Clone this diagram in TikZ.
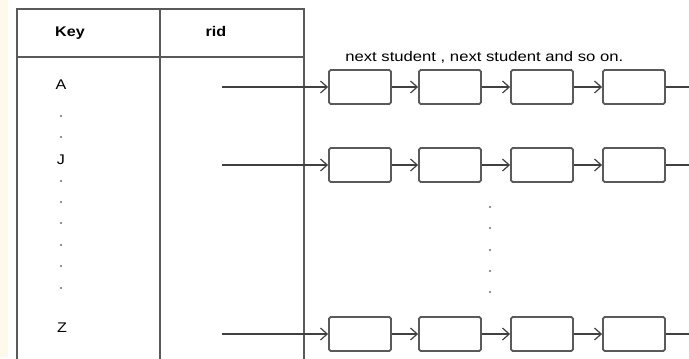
\documentclass[tikz,border=0pt]{standalone}
\usepackage{fontspec}
\setmainfont{Liberation Sans}
\usetikzlibrary{arrows.meta}

\definecolor{paper}{RGB}{255,249,236}
\definecolor{rule}{RGB}{90,90,90}
\definecolor{dotc}{RGB}{120,100,140}

\tikzset{
  cell/.style={draw=rule, line width=1.4pt, rounded corners=1.2pt, fill=white,
    minimum width=46.5pt, minimum height=25.5pt, inner sep=0pt},
  link/.style={draw=black!75, line width=1.1pt, -{Straight Barb[length=5pt,width=9pt,line width=0.9pt]}},
  txt/.style={inner sep=0pt, font=\fontsize{10.5}{12}\selectfont, xscale=1.15},
  hd/.style={txt, font=\fontsize{10.5}{12}\selectfont\bfseries},
}

\begin{document}
\begin{tikzpicture}[x=0.75pt,y=0.75pt,yscale=-1,xscale=1]
  \useasboundingbox (0,0) rectangle (689,358);
  \clip (0,0) rectangle (689,358);
  \fill[white] (0,0) rectangle (689,358);
  \fill[paper] (0,0) rectangle (8,358);

  %Table frame
  \draw[rule, line width=1.8pt] (17,362) -- (17,9) -- (304,9) -- (304,362);
  \draw[rule, line width=1.8pt] (17,57) -- (304,57);
  \draw[rule, line width=1.8pt] (160,9) -- (160,362);

  % Header
  \node[hd] (key) at (70,33) {Key};
  \node[hd] (rid) at (216,31) {rid};

  % Keys
  \node[txt] (ka) at (61,85) {A};
  \node[txt] (kj) at (61,160) {J};
  \node[txt] (kz) at (62,328) {Z};
  \foreach \y in {116,137,181,202,223,245,266,288}
    \fill[dotc] (61,\y) circle (0.9pt);

  % Caption
  \node[txt, anchor=west, xscale=1.035] (cap) at (345,57) {next student , next student and so on.};

  % Lists
  \node[cell] (a1) at (360,87) {};
  \node[cell] (a2) at (450,87) {};
  \node[cell] (a3) at (542,87) {};
  \node[cell] (a4) at (634,87) {};
  \node[cell] (j1) at (360,165) {};
  \node[cell] (j2) at (450,165) {};
  \node[cell] (j3) at (542,165) {};
  \node[cell] (j4) at (634,165) {};
  \node[cell] (z1) at (360,334) {};
  \node[cell] (z2) at (450,334) {};
  \node[cell] (z3) at (542,334) {};
  \node[cell] (z4) at (634,334) {};

  \coordinate (ra) at (222,87);
  \coordinate (rj) at (222,165);
  \coordinate (rz) at (222,334);
  \coordinate (ea) at (700,87);
  \coordinate (ej) at (700,165);
  \coordinate (ez) at (700,334);

  \foreach \r in {a,j,z}{
    \draw[link] (r\r) -- (\r1);
    \draw[link] (\r1) -- (\r2);
    \draw[link] (\r2) -- (\r3);
    \draw[link] (\r3) -- (\r4);
    \draw[link] (\r4) -- (e\r);
  }

  \foreach \y in {207,228,250,271,292}
    \fill[dotc] (490,\y) circle (0.9pt);
\end{tikzpicture}
\end{document}
